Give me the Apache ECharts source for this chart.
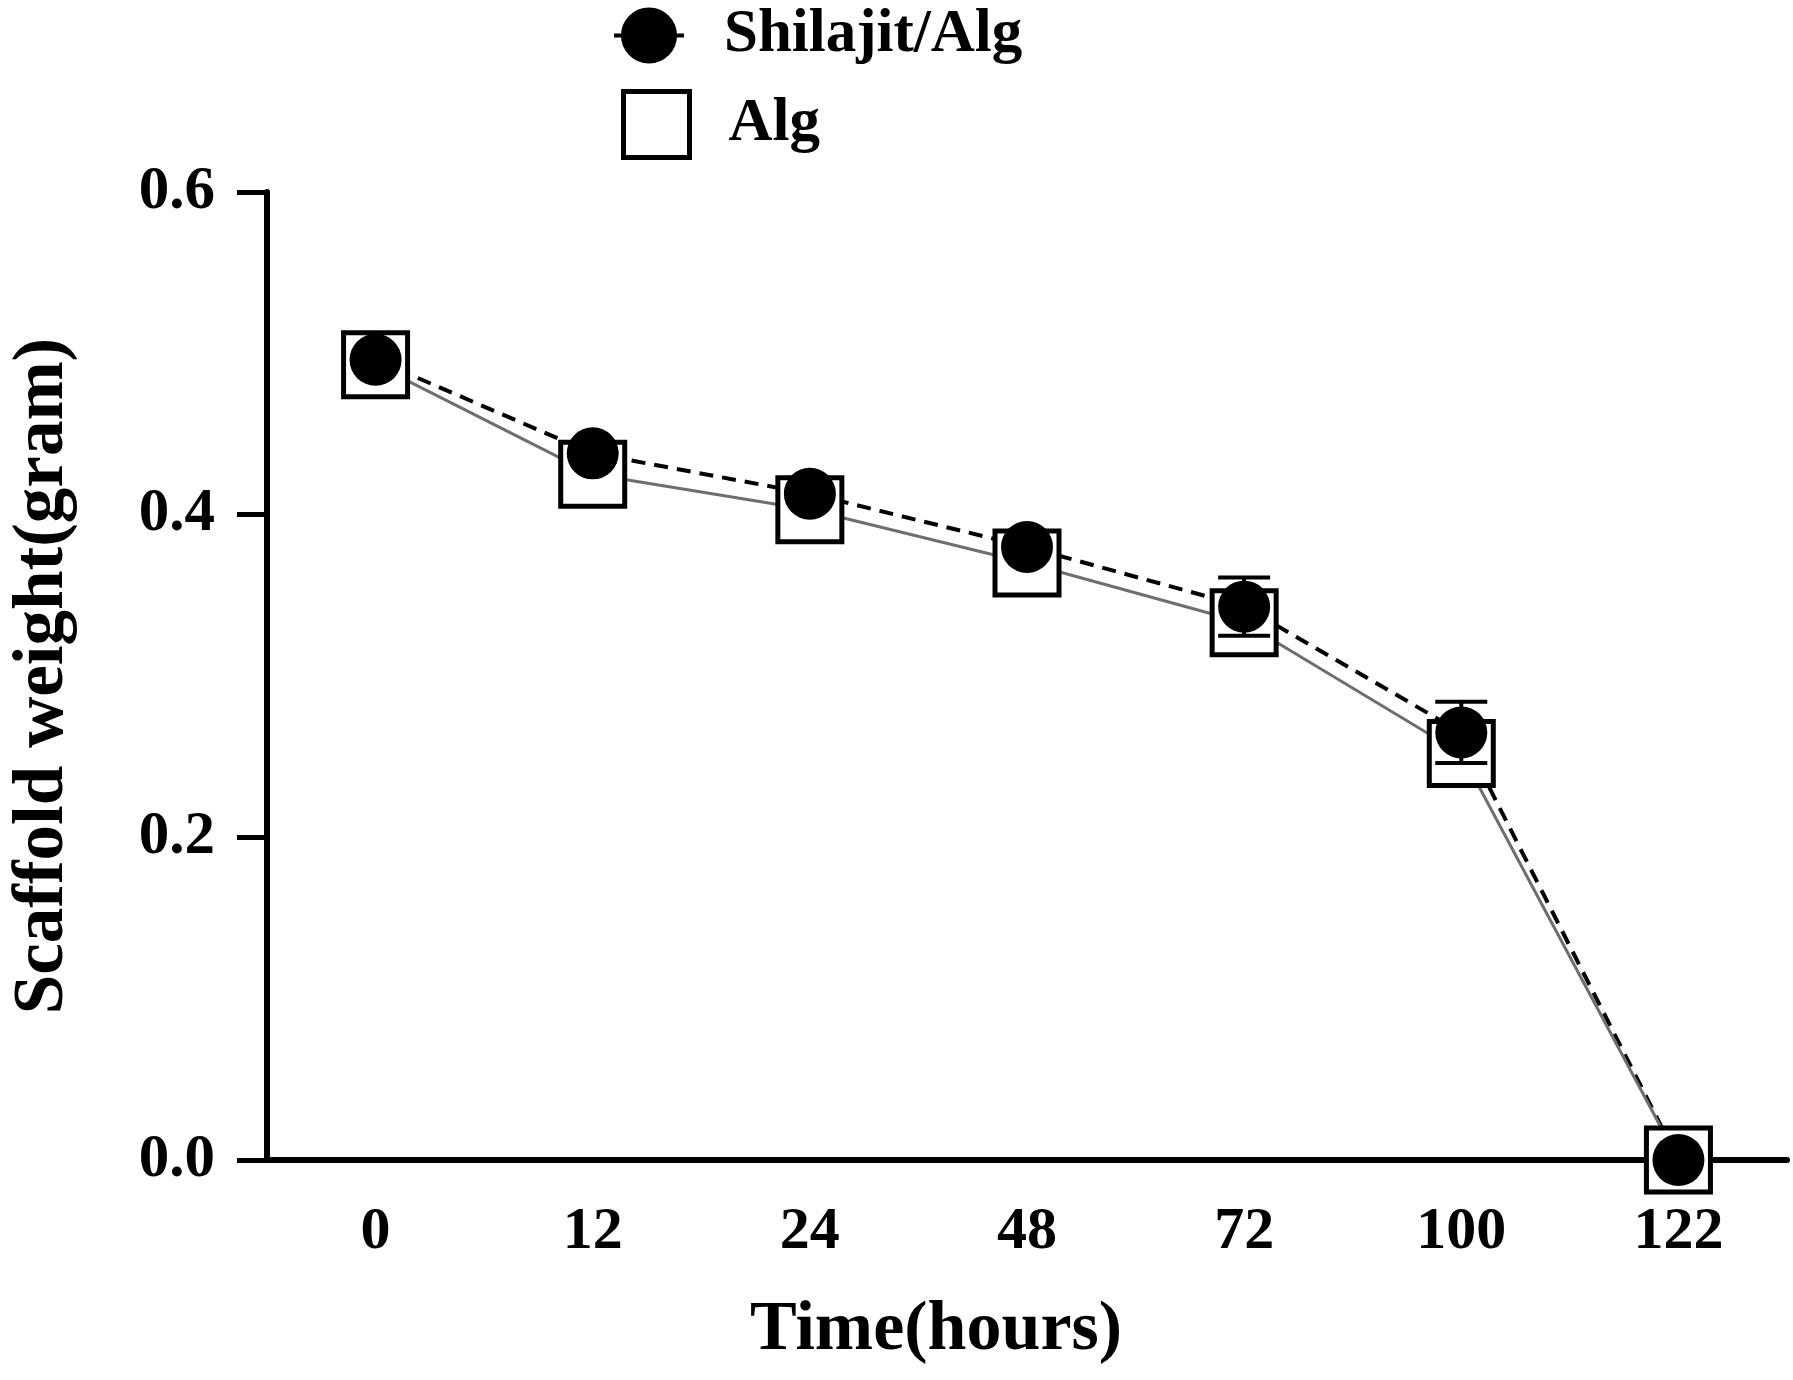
<!DOCTYPE html>
<html><head><meta charset="utf-8">
<script src="https://cdn.jsdelivr.net/npm/echarts@6/dist/echarts.min.js"></script>
<style>html,body{margin:0;padding:0;background:#fff}#c{width:1793px;height:1380px}</style>
</head><body><div id="c"></div>
<script>
const categories = ['0', '12', '24', '48', '72', '100', '122'];
const shilajitAlg = [0.496, 0.438, 0.413, 0.380, 0.343, 0.265, 0.0];
const shilajitErr = [0.0, 0.0, 0.0, 0.0, 0.018, 0.019, 0.0];
const alg = [0.493, 0.425, 0.403, 0.370, 0.333, 0.252, 0.0];
const algErr = [0.0, 0.0, 0.0, 0.0, 0.008, 0.008, 0.0];
const yMin = 0, yMax = 0.6, yStep = 0.2;

const FONT = 'Liberation Serif';
const chart = echarts.init(document.getElementById('c'), null, {renderer: 'canvas'});

function errData(vals, errs) {
  return vals.map((v, i) => [i, v - errs[i], v + errs[i]]);
}
function errRender(capW, lw) {
  return function (params, api) {
    const lo = api.coord([api.value(0), api.value(1)]);
    const hi = api.coord([api.value(0), api.value(2)]);
    if (Math.abs(hi[1] - lo[1]) < 0.5) return null;
    const st = {stroke: '#000', lineWidth: lw};
    return {type: 'group', children: [
      {type: 'line', shape: {x1: lo[0], y1: lo[1], x2: hi[0], y2: hi[1]}, style: st},
      {type: 'line', shape: {x1: lo[0] - capW / 2, y1: lo[1], x2: lo[0] + capW / 2, y2: lo[1]}, style: st},
      {type: 'line', shape: {x1: hi[0] - capW / 2, y1: hi[1], x2: hi[0] + capW / 2, y2: hi[1]}, style: st}
    ]};
  };
}

const legendText = {fontFamily: FONT, fontWeight: 'bold', fontSize: 61, color: '#000'};

chart.setOption({
  animation: false,
  backgroundColor: '#fff',
  grid: {left: 259, right: 6, top: 192, bottom: 220, containLabel: false},
  legend: [
    {
      left: 607, top: 0, orient: 'vertical', itemWidth: 72, itemHeight: 52,
      data: [{
        name: 'Shilajit/Alg',
        icon: 'path://M0,30 L12,30 M58,30 L70,30 M35,4 A26,26 0 1,0 35.01,4 Z',
        itemStyle: {color: '#000', borderColor: '#000', borderWidth: 4}
      }],
      textStyle: Object.assign({padding: [0, 0, 0, 34]}, legendText)
    },
    {
      left: 616, top: 84, orient: 'vertical', itemWidth: 66, itemHeight: 66,
      data: [{
        name: 'Alg', icon: 'rect',
        itemStyle: {color: '#fff', borderColor: '#000', borderWidth: 5}
      }],
      textStyle: Object.assign({padding: [0, 0, 0, 34]}, legendText)
    }
  ],
  xAxis: {
    type: 'category',
    data: categories,
    boundaryGap: true,
    name: 'Time(hours)',
    nameLocation: 'middle',
    nameGap: 136,
    nameTextStyle: {fontFamily: FONT, fontWeight: 'bold', fontSize: 70, color: '#000', padding: [0, 182, 0, 0]},
    axisLine: {lineStyle: {color: '#000', width: 6}},
    axisTick: {alignWithLabel: true, length: 28, lineStyle: {color: '#000', width: 5}},
    axisLabel: {margin: 42, fontFamily: FONT, fontWeight: 'bold', fontSize: 60, color: '#000'},
    splitLine: {show: false}
  },
  yAxis: {
    type: 'value',
    min: yMin, max: yMax, interval: yStep,
    name: 'Scaffold weight(gram)',
    nameLocation: 'middle',
    nameRotate: 90,
    nameGap: 188,
    nameTextStyle: {fontFamily: FONT, fontWeight: 'bold', fontSize: 71, color: '#000'},
    axisLine: {show: true, lineStyle: {color: '#000', width: 6}},
    axisTick: {show: true, length: 30, lineStyle: {color: '#000', width: 5}},
    axisLabel: {margin: 52, fontFamily: FONT, fontWeight: 'bold', fontSize: 61, color: '#000',
      formatter: v => v.toFixed(1)},
    splitLine: {show: false}
  },
  series: [
    {
      name: 'Shilajit/Alg line', type: 'line', data: shilajitAlg, z: 2,
      showSymbol: false, symbol: 'none',
      lineStyle: {color: '#000', width: 4, type: [14, 9]}
    },
    {
      name: 'Alg err', type: 'custom', data: errData(alg, algErr), z: 2,
      renderItem: errRender(52, 4)
    },
    {
      name: 'Alg', type: 'line', data: alg, z: 3,
      symbol: 'rect', symbolSize: 64, showAllSymbol: true,
      lineStyle: {color: '#6e6e6e', width: 3},
      itemStyle: {color: '#fff', borderColor: '#000', borderWidth: 5}
    },
    {
      name: 'Shilajit err', type: 'custom', data: errData(shilajitAlg, shilajitErr), z: 4,
      renderItem: errRender(52, 4)
    },
    {
      name: 'Shilajit/Alg', type: 'scatter', data: shilajitAlg, z: 5,
      symbol: 'circle', symbolSize: 52,
      itemStyle: {color: '#000', opacity: 1}
    }
  ]
});
</script></body></html>
